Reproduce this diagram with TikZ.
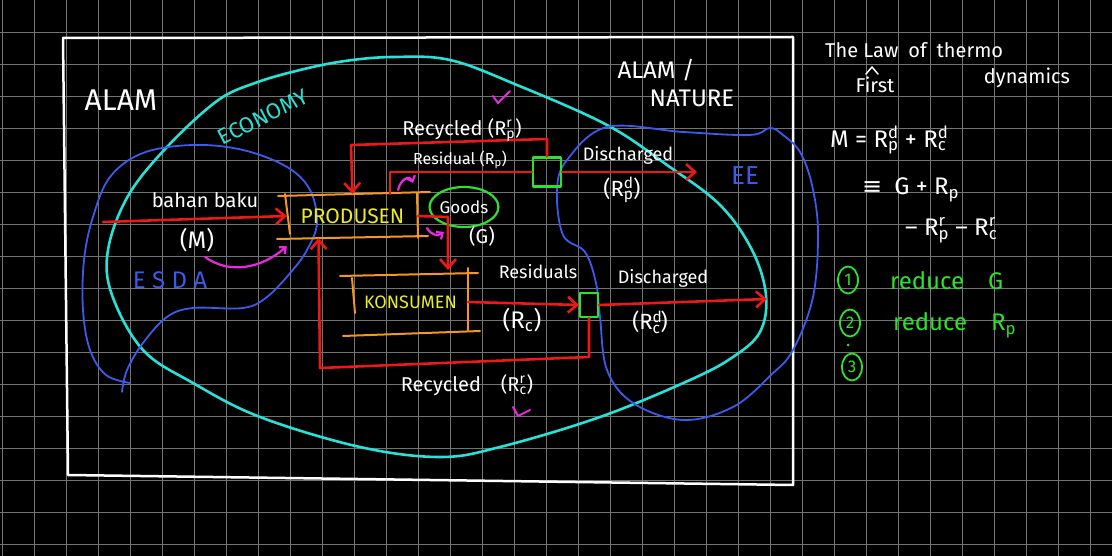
\documentclass[tikz,border=0pt]{standalone}
\usepackage{fontspec}
\setmainfont{Fira Sans}
\newfontfamily\dejavu{DejaVu Sans}
\usetikzlibrary{arrows.meta,calc,shapes.geometric}
\definecolor{hred}{RGB}{235,25,25}
\definecolor{horange}{RGB}{245,150,35}
\definecolor{hyellow}{RGB}{235,235,40}
\definecolor{hgreen}{RGB}{45,225,45}
\definecolor{hcyan}{RGB}{40,225,215}
\definecolor{hblue}{RGB}{60,90,235}
\definecolor{hmag}{RGB}{235,40,225}
\definecolor{hgrid}{RGB}{115,115,115}
\newcommand{\SupSub}[2]{\rlap{\textsuperscript{#1}}\textsubscript{#2}}
\begin{document}
\begin{tikzpicture}[x=1pt,y=-1pt,line cap=round,line join=round,
  txt/.style={text=white,inner sep=0pt},
  fs/.style={font=\fontsize{#1}{#1}\selectfont},
  redln/.style={draw=hred,line width=2.6pt},
  redarr/.style={redln,-{Straight Barb[length=9pt,width=16pt]}},
  orangeln/.style={draw=horange,line width=2pt},
  magarr/.style={draw=hmag,line width=2.2pt,-{Straight Barb[length=5pt,width=9pt]}},
  greensq/.style={draw=hgreen,line width=2.2pt,inner sep=0pt},
  numcirc/.style={ellipse,draw=hgreen,line width=1.8pt,minimum width=20pt,minimum height=27pt,inner sep=0pt,text=hgreen,font=\fontsize{17}{17}\selectfont}]
\fill[black] (0,0) rectangle (1112,556);
\useasboundingbox (0,0) rectangle (1112,556);
% grid
\foreach \i in {0,...,34} \draw[hgrid,line width=0.7pt] ({2+32*\i},0) -- ({2+32*\i},556);
\foreach \j in {1,...,17} \draw[hgrid,line width=0.7pt] (0,{32*\j}) -- (1112,{32*\j});
% frame
\draw[white,line width=2.5pt] (63,38) -- (793,37) -- (793,485) -- (68,475) -- cycle;
% economy loop
\draw[hcyan,line width=2.6pt] plot[smooth cycle,tension=0.6] coordinates {
 (393,57) (450,60) (517,85) (607,125) (667,165) (720,205) (752,250) (766,295)
 (760,332) (733,357) (690,380) (600,417) (500,447) (440,457) (360,447) (260,417)
 (193,383) (143,350) (112,295) (108,250) (128,196) (167,147) (217,101) (255,83) (300,70) (345,61)};
% ESDA loop
\draw[hblue,line width=1.8pt] plot[smooth,tension=0.6] coordinates {
 (130,383) (106,375) (90,350) (83,310) (84,260) (93,217) (110,177) (143,153) (193,145)
 (243,150) (287,167) (310,190) (317,223) (307,250) (291,272) (267,297) (243,308)
 (193,308) (167,317) (143,343) (127,370) (122,392)};
% EE loop
\draw[hblue,line width=1.8pt] plot[smooth cycle,tension=0.6] coordinates {
 (567,160) (607,127) (683,132) (750,135) (770,128) (783,135) (800,152) (812,185)
 (818,232) (813,297) (793,350) (771,375) (733,407) (683,420) (633,403) (607,370)
 (600,317) (596,283) (585,252) (563,235) (557,190)};
% texts in the big frame
\node[txt,fs=30] (alam) at (121,100) {ALAM};
\node[txt,fs=22,text=hcyan,rotate=27] (econ) at (263,117) {ECONOMY};
\node[txt,fs=24] (alam2) at (656,70) {ALAM /};
\node[txt,fs=24] (nature) at (692,98) {NATURE};
\node[txt,fs=26,text=hblue] (ee) at (745,176) {EE};
\node[txt,fs=24,text=hblue] (esda) at (170,280) {E S D A};
\node[txt,fs=20] (bb) at (205,200) {bahan baku};
\node[txt,fs=24] (m) at (197,240) {(M)};
% producer
\node[minimum width=131pt,minimum height=44pt,inner sep=0pt,text=hyellow,fs=21] (prod) at (352.5,216) {PRODUSEN};
\draw[orangeln] (278,196) -- (430,192);
\draw[orangeln] (277,239) -- (428,236);
\draw[orangeln] (285,194) -- (290,234);
\draw[orangeln] (417,193) -- (418,238);
% consumer
\node[minimum width=115pt,minimum height=58pt,inner sep=0pt,text=hyellow,fs=18] (kons) at (410.5,302) {KONSUMEN};
\draw[orangeln] (340,276) -- (478,273);
\draw[orangeln] (343,336) -- (480,331);
\draw[orangeln] (352,278) -- (355,313);
\draw[orangeln] (468,268) -- (468,330);
% goods
\node[ellipse,draw=hgreen,line width=2.2pt,minimum width=68pt,minimum height=40pt,inner sep=0pt,text=white,fs=17] (goods) at (464,207) {Goods};
\node[txt,fs=20] (g) at (482,237) {(G)};
% squares
\node[greensq,minimum width=28pt,minimum height=29pt] (sq1) at (547,172) {};
\node[greensq,minimum width=18pt,minimum height=24pt] (sq2) at (589,305) {};
% red flows
\coordinate (src) at (103,222);
\draw[redarr] (src) -- (prod.west);
\coordinate (res1) at (390,172);
\draw[redln] ($(prod.north)+(37.5,0)$) -- (res1) -- (sq1.west);
\coordinate (rc1) at (547,139);
\coordinate (rc2) at (351,145);
\draw[redarr] (sq1.north) -- (rc1) -- (rc2) -- (prod.north);
\coordinate (dis1) at (697,172);
\draw[redarr] (sq1.east) -- (dis1);
\coordinate (g1) at (448,217);
\coordinate (g2) at (448,270);
\draw[redarr] (prod.east) -- (g1) -- (g2);
\draw[redarr] (kons.east) -- (sq2.west);
\coordinate (dis2) at (767,299);
\draw[redarr] (sq2.east) -- (dis2);
\coordinate (rr1) at (589,357);
\coordinate (rr2) at (320,368);
\draw[redarr] (sq2.south) -- (rr1) -- (rr2) -- ($(prod.south)+(-34,0)$);
% magenta
\coordinate (mg1) at (205,257);
\draw[magarr] (mg1) .. controls (230,275) and (262,268) .. ($(prod.south west)+(0,8)$);
\coordinate (mg2) at (398,190);
\draw[magarr] (mg2) .. controls (401,178) and (410,175) .. (413,183);
\coordinate (mg3) at (427,228);
\draw[magarr] (mg3) .. controls (432,236) and (438,236) .. (444,232);
\draw[hmag,line width=2pt] (493,96) -- (498,103) -- (510,91);
\draw[hmag,line width=2pt] (513,407) -- (518,416) -- (530,410);
% flow labels
\node[txt,fs=20] (lrp) at (462,130) {Recycled (R\SupSub{r}{p})};
\node[txt,fs=16] (lres) at (460,160) {Residual (R\textsubscript{p})};
\node[txt,fs=18] (ld1) at (628,155) {Discharged};
\node[txt,fs=22] (lrpd) at (622,190) {(R\SupSub{d}{p})};
\node[txt,fs=18] (lres2) at (538,272) {Residuals};
\node[txt,fs=24] (lrc) at (522,320) {(R\textsubscript{c})};
\node[txt,fs=18] (ld2) at (663,278) {Discharged};
\node[txt,fs=22] (lrcd) at (650,322) {(R\SupSub{d}{c})};
\node[txt,fs=20] (lrcr) at (467,385) {Recycled\quad(R\SupSub{r}{c})};
% right notes
\node[txt,fs=20,anchor=west] (law) at (825,50) {The Law\enspace of\enspace thermo};
\node[txt,fs=20] (first) at (875,85) {First};
\draw[white,line width=1.5pt] (866,74) -- (872,67) -- (878,74);
\node[txt,fs=20] (dyn) at (1027,78) {dynamics};
\node[txt,fs=24,anchor=west] (eq1) at (830,140) {M = R\SupSub{d}{p} + R\SupSub{d}{c}};
\node[txt,fs=24,anchor=west] (eq2) at (862,190) {{\dejavu ≡}\enspace G + R\textsubscript{p}};
\node[txt,fs=24,anchor=west] (eq3) at (905,230) {– R\SupSub{r}{p} – R\SupSub{r}{c}};
\node[numcirc] (n1) at (848,280) {1};
\node[txt,text=hgreen,fs=24,anchor=west] (red1) at (890,281) {reduce\quad G};
\node[numcirc] (n2) at (850,323) {2};
\node[txt,text=hgreen,fs=24,anchor=west] (red2) at (893,325) {reduce\quad R\textsubscript{p}};
\fill[hgreen] (848,345) circle (1.5);
\node[numcirc] (n3) at (852,367) {3};
\end{tikzpicture}
\end{document}
